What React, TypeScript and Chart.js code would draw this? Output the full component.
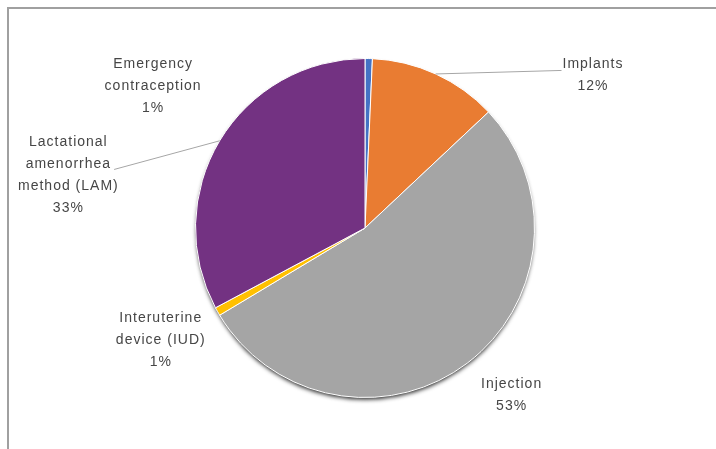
import React, { useEffect, useRef } from "react";
import { Chart, registerables } from "chart.js";

Chart.register(...registerables);

const categories = [
  "Emergency contraception",
  "Implants",
  "Injection",
  "Interuterine device (IUD)",
  "Lactational amenorrhea method (LAM)",
];
const labelLines = [
  ["Emergency", "contraception"],
  ["Implants"],
  ["Injection"],
  ["Interuterine", "device (IUD)"],
  ["Lactational", "amenorrhea", "method (LAM)"],
];
const shares = [0.7, 12.3, 53.4, 0.8, 32.8];
const colors = ["#4472C4", "#E97C32", "#A5A5A5", "#FFC000", "#733282"];
// label block centres, in units of the pie radius from the pie centre
const labelOffsets = [
  [-1.25, -0.835],
  [1.345, -0.9],
  [0.865, 0.985],
  [-1.205, 0.66],
  [-1.75, -0.31],
];
// which labels carry a leader line, and on which side of the text it ends
const leaderSide = ["", "left", "", "", "right"];

const FONT = "14px 'Liberation Sans', 'DejaVu Sans', sans-serif";
const LINE_H = 22;

const shadowPlugin = {
  id: "pieShadow",
  beforeDatasetsDraw(chart: any) {
    const meta = chart.getDatasetMeta(0);
    const a = meta.data[0];
    if (!a) return;
    const { x, y, outerRadius } = a.getProps(["x", "y", "outerRadius"], true);
    const ctx = chart.ctx;
    ctx.save();
    ctx.shadowColor = "rgba(0,0,0,0.85)";
    ctx.shadowBlur = 4;
    ctx.shadowOffsetY = 3;
    ctx.beginPath();
    ctx.arc(x, y, outerRadius - 1, 0, Math.PI * 2);
    ctx.fillStyle = "#777";
    ctx.fill();
    ctx.restore();
  },
};

const labelPlugin = {
  id: "pieLabels",
  afterDatasetsDraw(chart: any) {
    const meta = chart.getDatasetMeta(0);
    const ctx = chart.ctx;
    const data = chart.data.datasets[0].data as number[];
    const total = data.reduce((s, v) => s + v, 0);
    ctx.save();
    ctx.font = FONT;
    (ctx as any).letterSpacing = "1px";
    ctx.textAlign = "center";
    ctx.textBaseline = "middle";
    meta.data.forEach((arc: any, i: number) => {
      const { x, y, outerRadius, startAngle, endAngle } = arc.getProps(
        ["x", "y", "outerRadius", "startAngle", "endAngle"],
        true
      );
      const lines = [...labelLines[i], Math.round((data[i] / total) * 100) + "%"];
      const cx = x + labelOffsets[i][0] * outerRadius;
      const cy = y + labelOffsets[i][1] * outerRadius;
      const top = cy - ((lines.length - 1) * LINE_H) / 2;
      if (leaderSide[i]) {
        const mid = (startAngle + endAngle) / 2;
        const sx = x + Math.cos(mid) * outerRadius;
        const sy = y + Math.sin(mid) * outerRadius;
        let ex: number, ey: number;
        if (leaderSide[i] === "left") {
          const w = ctx.measureText(lines[0]).width;
          ex = cx - w / 2 - 1;
          ey = top + 6;
        } else {
          const w = ctx.measureText(lines[1]).width;
          ex = cx + w / 2 + 3;
          ey = top + LINE_H + 5;
        }
        ctx.beginPath();
        ctx.moveTo(sx, sy);
        ctx.lineTo(ex, ey);
        ctx.strokeStyle = "#A6A6A6";
        ctx.lineWidth = 1;
        ctx.stroke();
      }
      ctx.fillStyle = "#464646";
      lines.forEach((t, k) => ctx.fillText(t, cx, top + k * LINE_H));
    });
    ctx.restore();
  },
};

export default function App() {
  const ref = useRef<HTMLCanvasElement | null>(null);
  useEffect(() => {
    if (!ref.current) return;
    const chart = new Chart(ref.current, {
      type: "pie",
      data: {
        labels: categories,
        datasets: [
          {
            data: shares,
            backgroundColor: colors,
            borderColor: "#ffffff",
            borderWidth: 1,
          },
        ],
      },
      options: {
        animation: false,
        responsive: true,
        maintainAspectRatio: false,
        layout: { padding: { left: 195, right: 181, top: 58, bottom: 51 } },
        plugins: {
          legend: { display: false },
          tooltip: { enabled: false },
        },
      },
      plugins: [shadowPlugin, labelPlugin],
    });
    return () => chart.destroy();
  }, []);
  return (
    <div
      style={{
        position: "fixed",
        left: 0,
        top: 0,
        width: 716,
        height: 449,
        overflow: "hidden",
        background: "#fff",
      }}
    >
      <div
        style={{
          position: "absolute",
          left: 7,
          top: 7,
          width: 900,
          height: 700,
          borderLeft: "2px solid #A0A0A0",
          borderTop: "2px solid #A0A0A0",
        }}
      />
      <div style={{ position: "absolute", left: 0, top: 0, width: 716, height: 449 }}>
        <canvas ref={ref} />
      </div>
    </div>
  );
}
